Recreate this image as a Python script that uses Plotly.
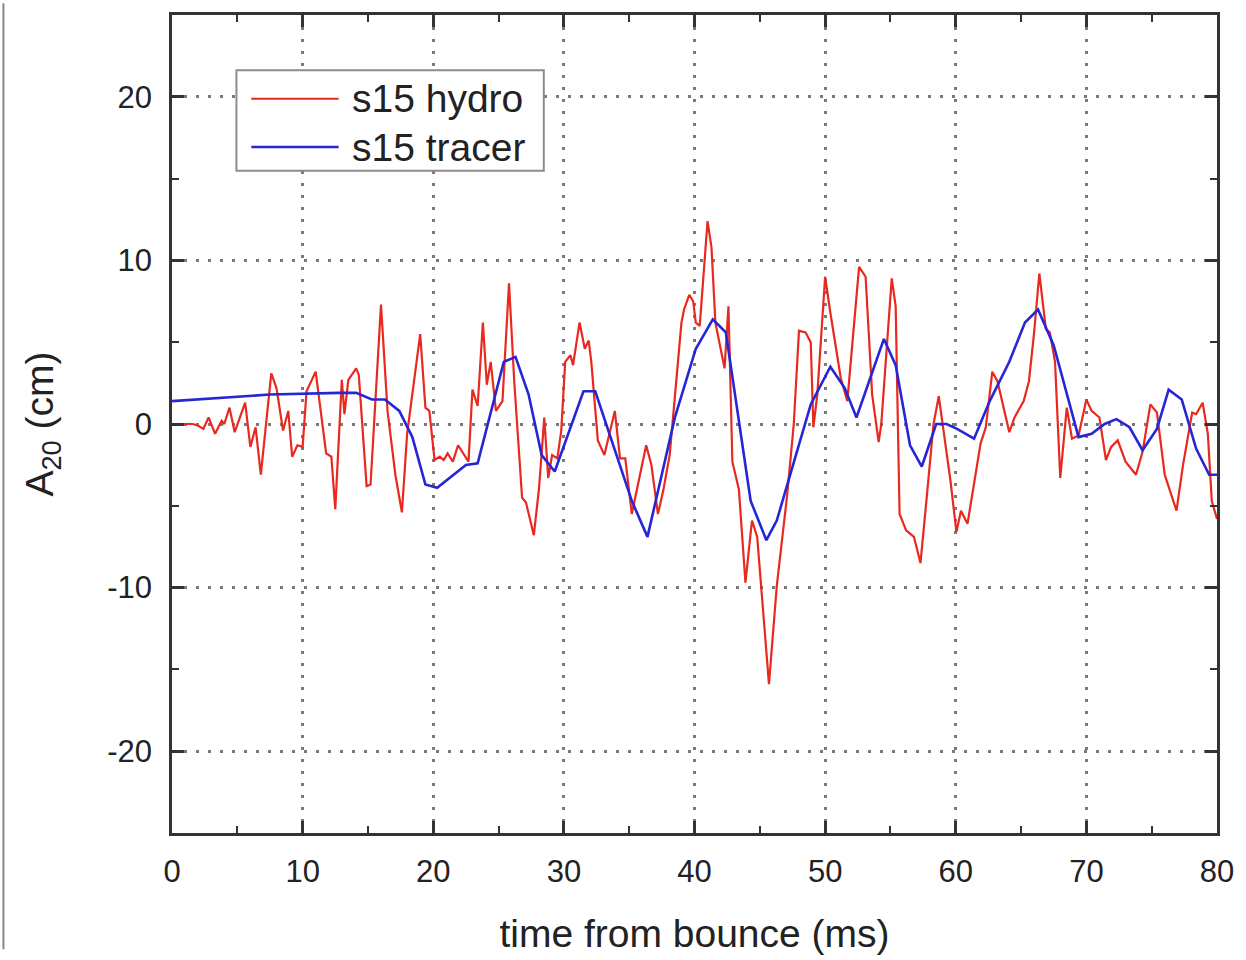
import plotly.graph_objects as go

# s15 hydro (red)
hydro_t = [0, 1.6, 2.0, 2.4, 2.8, 3.3, 3.8, 4.0, 4.4, 4.8, 5.6, 6.0, 6.4, 6.8, 7.6, 8.0, 8.5, 8.9,
           9.2, 9.6, 10.0, 10.3, 11.0, 11.8, 12.2, 12.5, 13.0, 13.2, 13.5, 14.1, 14.3, 14.9, 15.2,
           16.0, 16.5, 17.1, 17.6, 18.0, 19.0, 19.4, 19.7, 20.1, 20.5, 20.8, 21.1, 21.5, 21.9, 22.2,
           22.7, 23.0, 23.4, 23.8, 24.1, 24.4, 24.8, 25.3, 25.8, 26.2, 26.8, 27.1, 27.7, 28.1, 28.5,
           28.8, 29.1, 29.5, 29.8, 30.1, 30.5, 30.7, 31.2, 31.6, 31.9, 32.1, 32.6, 33.1, 33.5, 33.9,
           34.3, 34.7, 35.2, 35.7, 36.3, 36.7, 37.2, 37.6, 38.1, 39.0, 39.2, 39.6, 39.9, 40.1, 40.4,
           41.0, 41.3, 41.6, 42.3, 42.6, 42.9, 43.4, 43.9, 44.4, 44.8, 45.7, 46.3, 47.1, 47.6, 48.0,
           48.5, 48.9, 49.1, 49.4, 50.0, 50.4, 51.2, 51.7, 52.6, 53.1, 53.6, 54.1, 54.3, 55.1, 55.4,
           55.7, 56.2, 56.8, 57.3, 57.8, 58.3, 58.7, 59.2, 59.6, 60.05, 60.4, 60.9, 61.9, 62.3, 62.8,
           63.2, 64.1, 64.5, 65.2, 65.6, 66.0, 66.4, 66.9, 67.2, 67.6, 68.0, 68.5, 68.9, 69.4, 70.0,
           70.4, 71.0, 71.5, 71.9, 72.4, 73.0, 73.8, 74.3, 74.9, 75.4, 76.0, 76.9, 77.4, 78.1, 78.4,
           78.9, 79.3, 79.6, 80.0]
hydro_a = [0, 0, -0.1, -0.3, 0.4, -0.6, 0.2, 0.0, 1.0, -0.5, 1.3, -1.4, -0.2, -3.1, 3.1, 2.2, -0.4, 0.8,
           -2.0, -1.3, -1.4, 2.0, 3.2, -1.8, -2.0, -5.2, 2.7, 0.6, 2.7, 3.4, 3.0, -3.8, -3.7,
           7.3, 0.8, -3.1, -5.4, -0.6, 5.5, 1.0, 0.8, -2.2, -2.0, -2.2, -1.8, -2.3, -1.3, -1.7,
           -2.3, 2.1, 1.1, 6.2, 2.4, 3.8, 0.8, 1.4, 8.6, 2.6, -4.5, -4.8, -6.8, -3.9, 0.4,
           -3.3, -1.9, -2.1, -0.4, 3.8, 4.2, 3.6, 6.2, 4.6, 5.1, 3.8, -1.0, -1.9, -0.6, 0.8,
           -2.1, -2.1, -5.5, -3.5, -1.3, -2.5, -5.5, -4.1, -1.9, 6.2, 7.0, 7.9, 7.5, 6.2, 6.0,
           12.4, 10.8, 6.2, 3.4, 7.2, -2.3, -4.0, -9.7, -5.9, -6.9, -15.9, -9.9, -4.3, 0.0, 5.7,
           5.6, 5.0, -0.2, 1.8, 9.0, 6.8, 2.8, 1.4, 9.6, 9.0, 1.8, -1.1, 0.0, 8.9, 7.2,
           -5.5, -6.5, -6.9, -8.5, -4.3, 0.0, 1.7, -1.2, -3.5, -6.6, -5.3, -6.1, -1.2, -0.2, 3.2,
           2.6, -0.5, 0.4, 1.4, 2.6, 5.6, 9.2, 5.8, 5.6, 3.8, -3.3, 1.0, -0.9, -0.7, 1.5,
           0.8, 0.4, -2.2, -1.4, -1.0, -2.3, -3.1, -1.7, 1.2, 0.7, -3.1, -5.3, -2.5, 0.7, 0.6,
           1.3, -0.6, -4.7, -5.8]

# s15 tracer (blue)
tracer_t = [0, 7.5, 12.8, 14.1, 15.3, 16.3, 17.4, 18.4, 19.4, 20.3, 22.5, 23.4, 25.4, 26.3, 27.3,
            28.3, 29.3, 31.5, 32.4, 35.2, 36.4, 38.5, 40.1, 41.4, 42.4, 44.3, 45.5, 46.3, 48.9,
            50.4, 51.5, 52.4, 54.5, 55.4, 56.5, 57.4, 58.5, 59.3, 60.1, 61.4, 62.6, 64.1, 65.3,
            66.3, 67.5, 69.4, 70.4, 71.4, 72.3, 73.3, 74.3, 75.4, 76.3, 77.3, 78.4, 79.4, 80.0]
tracer_a = [1.4, 1.8, 1.9, 1.9, 1.5, 1.5, 0.8, -0.8, -3.7, -3.9, -2.5, -2.4, 3.8, 4.1, 1.8,
            -1.9, -2.9, 2.0, 2.0, -4.7, -6.9, 0.4, 4.6, 6.4, 5.6, -4.7, -7.1, -5.9, 1.2,
            3.5, 2.2, 0.4, 5.2, 3.6, -1.3, -2.6, 0.0, 0.0, -0.3, -0.9, 1.4, 3.8, 6.2,
            7.0, 4.8, -0.8, -0.6, 0.0, 0.3, -0.2, -1.6, -0.3, 2.1, 1.5, -1.5, -3.1, -3.1]

series_names = ["s15 hydro", "s15 tracer"]
x_ticks = [0, 10, 20, 30, 40, 50, 60, 70, 80]
x_ticklabels = ["0", "10", "20", "30", "40", "50", "60", "70", "80"]
y_ticks = [-20, -10, 0, 10, 20]
y_ticklabels = ["-20", "-10", "0", "10", "20"]

RED = "#e8291f"
BLUE = "#2626d6"
FONT = "Liberation Sans, Arial, Helvetica, sans-serif"
AX = "#333333"

fig = go.Figure()
fig.add_trace(go.Scatter(x=hydro_t, y=hydro_a, mode="lines", name=series_names[0],
                         line=dict(color=RED, width=2.2), showlegend=False))
fig.add_trace(go.Scatter(x=tracer_t, y=tracer_a, mode="lines", name=series_names[1],
                         line=dict(color=BLUE, width=2.6), showlegend=False))

W, H = 1246, 960
L, R, T, B = 172, 20, 12, 118
pw, ph = W - L - R, H - T - B


def px(xp):
    return (xp - L) / pw


def py(yp):
    return (H - B - yp) / ph


axis_common = dict(
    showline=True, linecolor=AX, linewidth=2.5, mirror="allticks",
    ticks="inside", ticklen=12, tickwidth=2.5, tickcolor=AX,
    showgrid=True, gridcolor="#7a7a7a", gridwidth=2.5, griddash="3px,9px",
    zeroline=False,
    tickfont=dict(family=FONT, size=31, color="#222"),
    minor=dict(dtick=5, ticks="inside", ticklen=7, tickwidth=2, tickcolor=AX, showgrid=False),
)

fig.update_xaxes(range=[0, 80], tickvals=x_ticks, ticktext=x_ticklabels, ticklabelstandoff=9,
                 **axis_common,
                 title=dict(text="time from bounce (ms)", font=dict(family=FONT, size=39, color="#222"),
                            standoff=32))
fig.update_yaxes(range=[-25, 25], tickvals=y_ticks, ticktext=y_ticklabels, ticklabelstandoff=11,
                 **axis_common,
                 title=dict(text="A<sub>20</sub> (cm)", font=dict(family=FONT, size=39, color="#222"),
                            standoff=42))

shapes = [
    # legend box
    dict(type="rect", xref="paper", yref="paper", x0=px(237), x1=px(547), y0=py(170), y1=py(68),
         line=dict(color="#8c8c8c", width=2), fillcolor="white", layer="above"),
    dict(type="line", xref="paper", yref="paper", x0=px(252), x1=px(340), y0=py(97), y1=py(97),
         line=dict(color=RED, width=2.2), layer="above"),
    dict(type="line", xref="paper", yref="paper", x0=px(252), x1=px(340), y0=py(146), y1=py(146),
         line=dict(color=BLUE, width=2.6), layer="above"),
    # left page border
    dict(type="line", xref="paper", yref="paper", x0=px(2), x1=px(2), y0=py(960), y1=py(0),
         line=dict(color="#888", width=2)),
]
annotations = [
    dict(xref="paper", yref="paper", x=px(352), y=py(97), text=series_names[0], showarrow=False,
         xanchor="left", yanchor="middle", font=dict(family=FONT, size=39, color="#222")),
    dict(xref="paper", yref="paper", x=px(352), y=py(146), text=series_names[1], showarrow=False,
         xanchor="left", yanchor="middle", font=dict(family=FONT, size=39, color="#222")),
]

fig.update_layout(
    width=W, height=H,
    margin=dict(l=L, r=R, t=T, b=B, pad=0),
    paper_bgcolor="white", plot_bgcolor="white",
    shapes=shapes, annotations=annotations,
    showlegend=False,
)

fig.write_html("out.html", config={"displayModeBar": False},
               post_script="document.body.style.margin='0';")
